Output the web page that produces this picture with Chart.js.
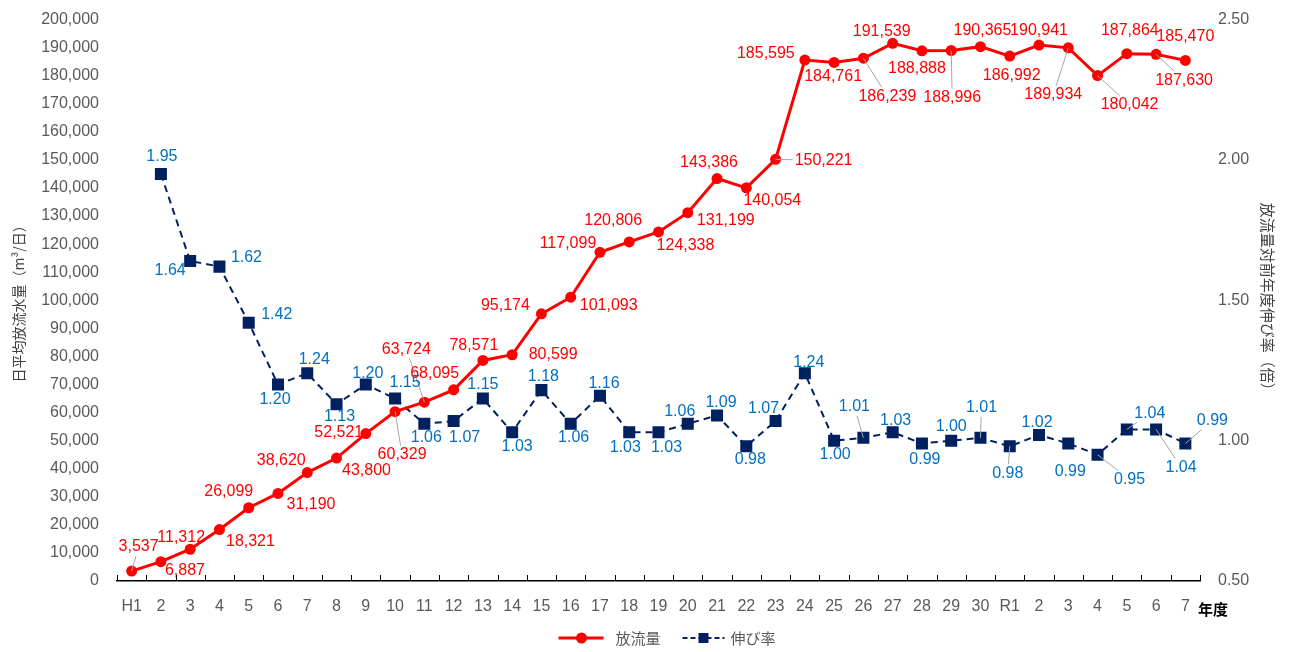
<!DOCTYPE html>
<html>
<head>
<meta charset="utf-8">
<script src="https://cdn.jsdelivr.net/npm/chart.js@4.4.1/dist/chart.umd.min.js"></script>
<style>
  html, body { margin: 0; padding: 0; background: #fff; }
</style>
</head>
<body>
<canvas id="chart" width="1290" height="652"></canvas>
<script>
const years = ['H1','2','3','4','5','6','7','8','9','10','11','12','13','14','15','16','17','18','19','20',
  '21','22','23','24','25','26','27','28','29','30','R1','2','3','4','5','6','7'];

// 日平均放流水量（m3/日）
const flow = [3537, 6887, 11312, 18321, 26099, 31190, 38620, 43800, 52521, 60329,
  63724, 68095, 78571, 80599, 95174, 101093, 117099, 120806, 124338, 131199,
  143386, 140054, 150221, 185595, 184761, 186239, 191539, 188888, 188996, 190365,
  186992, 190941, 189934, 180042, 187864, 187630, 185470];

// 対前年度伸び率（倍）
const growth = [null, 1.95, 1.64, 1.62, 1.42, 1.20, 1.24, 1.13, 1.20, 1.15,
  1.06, 1.07, 1.15, 1.03, 1.18, 1.06, 1.16, 1.03, 1.03, 1.06,
  1.09, 0.98, 1.07, 1.24, 1.00, 1.01, 1.03, 0.99, 1.00, 1.01,
  0.98, 1.02, 0.99, 0.95, 1.04, 1.04, 0.99];

const flowMax = 200000, flowStep = 10000;
const rateMin = 0.5, rateMax = 2.5, rateStep = 0.5;

// label offsets from the point [dx, dy, leader line]
const flowLabelPos = [
  [7,-24,1],[24,9,0],[-9,-12,0],[31,12,0],[-20,-16,0],[33,11,0],[-26,-12,0],[30,13,0],[-27,-1,0],[7,43,1],
  [-18,-53,1],[-19,-16,0],[-9,-15,0],[41,0,0],[-36,-8,0],[38,8,0],[-32,-9,0],[-16,-21,0],[27,14,0],[38,8,0],
  [-8,-16,0],[26,13,0],[48,1,1],[-39,-6,0],[-1,14,0],[24,38,1],[-11,-12,0],[-5,18,0],[1,47,1],[2,-16,0],
  [2,19,0],[0,-14,0],[-15,47,1],[32,29,1],[3,-23,0],[28,26,1],[0,-24,0]
];
const growthLabelPos = [
  null,[1,-17,0],[-20,10,0],[27,-9,0],[28,-8,0],[-3,15,0],[7,-14,0],[3,12,0],[2,-11,0],[10,-16,0],
  [2,14,0],[11,17,0],[0,-14,0],[5,14,0],[2,-14,0],[3,14,0],[4,-12,0],[-4,15,0],[8,15,0],[-8,-12,0],
  [4,-13,0],[4,13,0],[-12,-12,0],[4,-11,0],[1,14,0],[-9,-31,1],[3,-12,0],[3,16,0],[0,-14,0],[1,-30,1],
  [-2,27,1],[-2,-12,0],[2,28,0],[32,25,1],[23,-16,1],[25,38,1],[27,-23,1]
];

const RED = '#FF0000';
const NAVY = '#002060';
const LABEL_BLUE = '#0070C0';
const GRAY = '#595959';
const NUM_FONT = '"Liberation Sans", Arial, sans-serif';
const JP_FONT = '"Noto Sans CJK JP", "Noto Sans", sans-serif';

const labelPlugin = {
  id: 'pointLabels',
  afterDatasetsDraw(chart) {
    const ctx = chart.ctx;
    const sets = [
      { meta: chart.getDatasetMeta(0), vals: flow, pos: flowLabelPos, color: RED,
        fmt: v => v.toLocaleString('en-US') },
      { meta: chart.getDatasetMeta(1), vals: growth, pos: growthLabelPos, color: LABEL_BLUE,
        fmt: v => v.toFixed(2) }
    ];
    ctx.save();
    ctx.font = '16px ' + NUM_FONT;
    ctx.textAlign = 'center';
    ctx.textBaseline = 'middle';
    sets.forEach(s => {
      s.meta.data.forEach((pt, i) => {
        const v = s.vals[i];
        if (v === null || !s.pos[i]) return;
        const [dx, dy, leader] = s.pos[i];
        const text = s.fmt(v);
        const cx = pt.x + dx, cy = pt.y + dy;
        if (leader) {
          const hw = ctx.measureText(text).width / 2 + 2, hh = 9;
          const ddx = pt.x - cx, ddy = pt.y - cy;
          const k = Math.min(ddx ? hw / Math.abs(ddx) : Infinity, ddy ? hh / Math.abs(ddy) : Infinity);
          if (k < 1) {
            ctx.strokeStyle = '#A6A6A6';
            ctx.lineWidth = 1;
            ctx.beginPath();
            ctx.moveTo(pt.x, pt.y);
            ctx.lineTo(cx + ddx * k, cy + ddy * k);
            ctx.stroke();
          }
        }
        ctx.fillStyle = s.color;
        ctx.fillText(text, cx, cy);
      });
    });
    ctx.restore();
  }
};

// x tick marks (pointing up), the 年度 caption and the legend row
const axisExtras = {
  id: 'axisExtras',
  afterDraw(chart) {
    const ctx = chart.ctx;
    const x = chart.scales.x;
    const area = chart.chartArea;
    ctx.save();
    ctx.strokeStyle = '#000';
    ctx.lineWidth = 1;
    for (let i = 0; i <= years.length; i++) {
      const px = Math.round(x.getPixelForValue(i - 0.5)) + 0.5;
      ctx.beginPath();
      ctx.moveTo(px, area.bottom);
      ctx.lineTo(px, area.bottom - 6);
      ctx.stroke();
    }
    ctx.fillStyle = '#000';
    ctx.font = 'bold 15px ' + JP_FONT;
    ctx.textAlign = 'left';
    ctx.textBaseline = 'middle';
    ctx.fillText('年度', area.right - 2, area.bottom + 28);

    // legend
    const ly = chart.height - 14;
    let lx = (area.left + area.right) / 2 - 100;
    ctx.font = '15px ' + JP_FONT;
    ctx.textBaseline = 'middle';
    // 放流量
    ctx.strokeStyle = RED; ctx.lineWidth = 3;
    ctx.beginPath(); ctx.moveTo(lx, ly); ctx.lineTo(lx + 45, ly); ctx.stroke();
    ctx.fillStyle = RED;
    ctx.beginPath(); ctx.arc(lx + 23, ly, 5.5, 0, Math.PI * 2); ctx.fill();
    lx += 57;
    ctx.fillStyle = GRAY;
    ctx.fillText(chart.data.datasets[0].label, lx, ly);
    lx += ctx.measureText(chart.data.datasets[0].label).width + 22;
    // 伸び率
    ctx.strokeStyle = NAVY; ctx.lineWidth = 2;
    ctx.setLineDash([5, 3]);
    ctx.beginPath(); ctx.moveTo(lx, ly); ctx.lineTo(lx + 42, ly); ctx.stroke();
    ctx.setLineDash([]);
    ctx.fillStyle = NAVY;
    ctx.fillRect(lx + 16, ly - 5, 10, 10);
    lx += 48;
    ctx.fillStyle = GRAY;
    ctx.fillText(chart.data.datasets[1].label, lx, ly);
    ctx.restore();
  }
};

new Chart(document.getElementById('chart').getContext('2d'), {
  type: 'line',
  data: {
    labels: years,
    datasets: [
      {
        label: '放流量',
        data: flow,
        yAxisID: 'y',
        borderColor: RED,
        backgroundColor: RED,
        borderWidth: 3,
        pointRadius: 5.5,
        pointHoverRadius: 5.5,
        pointStyle: 'circle',
        pointBorderWidth: 0,
        tension: 0
      },
      {
        label: '伸び率',
        data: growth,
        yAxisID: 'y2',
        borderColor: NAVY,
        backgroundColor: NAVY,
        borderWidth: 2,
        borderDash: [7, 5],
        pointRadius: 8.5,
        pointHoverRadius: 8.5,
        pointStyle: 'rect',
        pointBorderWidth: 0,
        tension: 0
      }
    ]
  },
  options: {
    responsive: false,
    animation: false,
    layout: { padding: { top: 2, bottom: 35, left: 0, right: 0 } },
    plugins: {
      tooltip: { enabled: false },
      legend: { display: false }
    },
    scales: {
      x: {
        offset: true,
        grid: { display: false },
        border: { display: true, color: '#000', width: 1.5 },
        ticks: { color: GRAY, font: { family: NUM_FONT, size: 16 }, padding: 8, maxRotation: 0, autoSkip: false },
        afterFit: s => { s.height = 36; }
      },
      y: {
        position: 'left',
        min: 0,
        max: flowMax,
        grid: { display: false },
        border: { display: false },
        ticks: {
          stepSize: flowStep,
          color: GRAY,
          font: { family: NUM_FONT, size: 16 },
          padding: 10,
          callback: v => v.toLocaleString('en-US')
        },
        title: {
          display: true,
          text: '日平均放流水量（m³/日）',
          color: '#404040',
          font: { family: JP_FONT, size: 14 },
          padding: { top: 10, bottom: 0 }
        },
        afterFit: s => { s.width = 117; }
      },
      y2: {
        position: 'right',
        min: rateMin,
        max: rateMax,
        grid: { display: false },
        border: { display: false },
        ticks: {
          stepSize: rateStep,
          color: GRAY,
          font: { family: NUM_FONT, size: 16 },
          padding: 10,
          callback: v => v.toFixed(2)
        },
        title: {
          display: true,
          text: '放流量対前年度伸び率（倍）',
          color: '#404040',
          font: { family: JP_FONT, size: 15 },
          padding: { top: 13, bottom: 0 }
        },
        afterFit: s => { s.width = 90; }
      }
    }
  },
  plugins: [labelPlugin, axisExtras]
});
</script>
</body>
</html>
